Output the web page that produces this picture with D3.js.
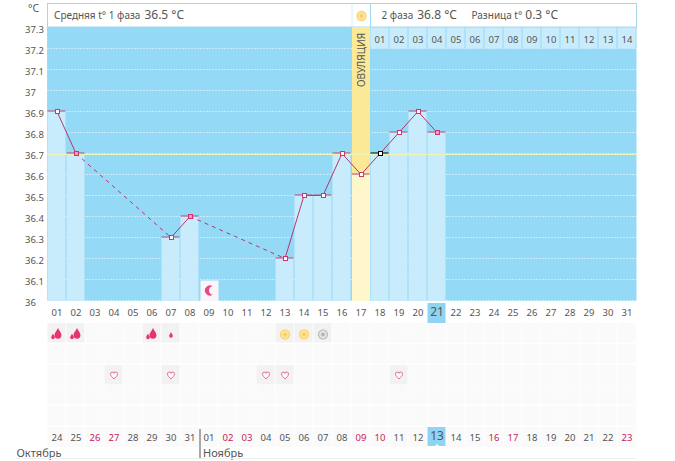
<!DOCTYPE html>
<html>
<head>
<meta charset="utf-8">
<script src="https://cdn.jsdelivr.net/npm/d3@7"></script>
<style>
html,body{margin:0;padding:0;background:#fff;}
svg{display:block;}
text{font-family:"Noto Sans",sans-serif;font-size:9.5px;fill:#555;}
</style>
</head>
<body>
<div id="chart"></div>
<script>
// cycle days, calendar dates
var cycleDays=["01","02","03","04","05","06","07","08","09","10","11","12","13","14","15","16","17","18","19","20","21","22","23","24","25","26","27","28","29","30","31"];
var dates=["24","25","26","27","28","29","30","31","01","02","03","04","05","06","07","08","09","10","11","12","13","14","15","16","17","18","19","20","21","22","23"];
var redDates=[2,3,9,10,16,17,23,24,30];
var secondPhase=["01","02","03","04","05","06","07","08","09","10","11","12","13","14"];
var tempTicks=[36,36.1,36.2,36.3,36.4,36.5,36.6,36.7,36.8,36.9,37,37.1,37.2,37.3];

// measured temperature per day, null = not measured
var temps=[36.9,36.7,null,null,null,null,36.3,36.4,null,null,null,null,36.2,36.5,36.5,36.7,36.6,36.7,36.8,36.9,36.8];
var filledMarks=[1,7,20];
var blackMarks=[17];

var dropsBig=[0,1,5];
var dropsSmall=[6];
var sunsYellow=[12,13];
var sunsGrey=[14];
var hearts=[3,6,11,12,18];
var moonDay=8;
var ovulationDay=16;
var todayDay=20;
var coverLine=36.7;
var monthBreak=8;

var width=675, height=461;
var svg=d3.select("#chart").append("svg").attr("width",width).attr("height",height);

var x=d3.scaleBand().domain(d3.range(31)).range([47.5,636.5]);
var y=d3.scaleLinear().domain([36,37.3]).range([300.5,27.5]);
var cx=function(i){return x(i)+x.bandwidth()/2;};
var bottom=y(36);

var defs=svg.append("defs");
var g1=defs.append("radialGradient").attr("id","sunY");
g1.append("stop").attr("offset","0%").attr("stop-color","#f6bd4e");
g1.append("stop").attr("offset","55%").attr("stop-color","#fdeaa8");
g1.append("stop").attr("offset","82%").attr("stop-color","#fad06e");
g1.append("stop").attr("offset","100%").attr("stop-color","#fdf0c4");
var g2=defs.append("radialGradient").attr("id","sunG");
g2.append("stop").attr("offset","0%").attr("stop-color","#999");
g2.append("stop").attr("offset","55%").attr("stop-color","#eee");
g2.append("stop").attr("offset","82%").attr("stop-color","#bbb");
g2.append("stop").attr("offset","100%").attr("stop-color","#ececec");

// plot background
svg.append("rect").attr("x",x(0)).attr("y",27).attr("width",589).attr("height",bottom-27+0.5).attr("fill","#94d9f5");
svg.append("line").attr("x1",x(0)).attr("x2",x(0)).attr("y1",3).attr("y2",bottom).attr("stroke","#a5d8ec");

// white dotted grid
svg.append("g").selectAll("line").data(tempTicks.filter(function(t){return t<37.3;})).join("line")
  .attr("x1",x(0)).attr("x2",636.5)
  .attr("y1",function(d){return y(d);}).attr("y2",function(d){return y(d);})
  .attr("stroke","#fff").attr("stroke-dasharray","1,2");

// header
svg.append("rect").attr("x",x(0)).attr("y",3.5).attr("width",589).attr("height",23.5).attr("fill","#fff").attr("stroke","#a5d8ec");
svg.append("line").attr("x1",x(ovulationDay)+0.5).attr("x2",x(ovulationDay)+0.5).attr("y1",4).attr("y2",27).attr("stroke","#d8eef7");
svg.append("line").attr("x1",x(ovulationDay)+19).attr("x2",x(ovulationDay)+19).attr("y1",4).attr("y2",27).attr("stroke","#a5d8ec");
svg.append("text").attr("x",54).attr("y",19).style("font-size","10px").text("Средняя t° 1 фаза").append("tspan").attr("dx",4).style("font-size","12px").text("36.5 °C");
svg.append("text").attr("x",381.5).attr("y",19).style("font-size","10px").text("2 фаза").append("tspan").attr("dx",4).style("font-size","12px").text("36.8 °C");
svg.append("text").attr("x",471.5).attr("y",19).style("font-size","10px").text("Разница t°").append("tspan").attr("dx",3).style("font-size","12px").text("0.3 °C");
svg.append("circle").attr("cx",cx(ovulationDay)+0.5).attr("cy",16).attr("r",5.5).attr("fill","url(#sunY)");

// second phase day numbers
svg.append("g").selectAll("rect").data(secondPhase).join("rect")
  .attr("x",function(d,i){return x(ovulationDay+1+i);}).attr("y",27.5)
  .attr("width",18).attr("height",21).attr("fill","#c9ecfc");
svg.append("g").selectAll("text").data(secondPhase).join("text")
  .attr("x",function(d,i){return cx(ovulationDay+1+i);}).attr("y",43)
  .attr("text-anchor","middle").text(function(d){return d;});

// bars
var bars=temps.map(function(t,i){return {t:t,i:i};}).filter(function(d){return d.t!==null&&d.i!=ovulationDay;});
svg.append("g").selectAll("rect").data(bars).join("rect")
  .attr("x",function(d){return x(d.i);}).attr("y",function(d){return y(d.t);})
  .attr("width",18).attr("height",function(d){return bottom-y(d.t)+0.5;})
  .attr("fill","#c9ecfd");

// ovulation column
svg.append("rect").attr("x",x(ovulationDay)+0.5).attr("y",27).attr("width",18).attr("height",y(temps[ovulationDay])-27).attr("fill","#fce998");
svg.append("rect").attr("x",x(ovulationDay)+0.5).attr("y",y(temps[ovulationDay])).attr("width",18).attr("height",bottom-y(temps[ovulationDay])+0.5).attr("fill","#fff7cc");
svg.append("text").attr("transform","translate("+(cx(ovulationDay)+4)+",87) rotate(-90)").style("font-size","10px").text("ОВУЛЯЦИЯ");

// moon cell
svg.append("rect").attr("x",x(moonDay)+1).attr("y",y(36.1)+1).attr("width",18).attr("height",bottom-y(36.1)-0.5).attr("fill","#faf5f8");
svg.append("path").attr("transform","translate("+(cx(moonDay)+1)+","+(y(36.05)+0.5)+")")
  .attr("d","M2.5,-4.3A5,5 0 1 0 2.5,4.3A4.4,4.4 0 0 1 2.5,-4.3Z").attr("fill","#e8487f");

// cover line
svg.append("line").attr("x1",x(0)).attr("x2",636.5).attr("y1",y(coverLine)+1).attr("y2",y(coverLine)+1).attr("stroke","#eef6b4");

// temperature line: solid between neighbours, dashed over gaps
var measured=temps.map(function(t,i){return {t:t,i:i};}).filter(function(d){return d.t!==null;});
var segs=d3.pairs(measured);
svg.append("g").selectAll("line").data(segs).join("line")
  .attr("x1",function(d){return cx(d[0].i);}).attr("y1",function(d){return y(d[0].t);})
  .attr("x2",function(d){return cx(d[1].i);}).attr("y2",function(d){return y(d[1].t);})
  .attr("stroke","#b5386f")
  .attr("stroke-dasharray",function(d){return d[1].i-d[0].i>1?"4,4":null;});

// value dash and square marker
svg.append("g").selectAll("line").data(measured).join("line")
  .attr("x1",function(d){return x(d.i);}).attr("x2",function(d){return x(d.i)+18;})
  .attr("y1",function(d){return y(d.t)-0.5;}).attr("y2",function(d){return y(d.t)-0.5;})
  .attr("stroke",function(d){return blackMarks.indexOf(d.i)>=0?"#000":"#c2457c";});
svg.append("g").selectAll("rect").data(measured).join("rect")
  .attr("x",function(d){return cx(d.i)-1.5;}).attr("y",function(d){return y(d.t)-2;})
  .attr("width",4).attr("height",4)
  .attr("fill",function(d){return filledMarks.indexOf(d.i)>=0?"#f29cbc":"#fff";})
  .attr("stroke",function(d){return blackMarks.indexOf(d.i)>=0?"#000":"#d0336f";});

// temperature axis
var axis=d3.axisLeft(y).tickValues(tempTicks).tickSize(0).tickFormat(function(d){return d%1==0?d3.format("d")(d):d3.format(".1f")(d);});
var axG=svg.append("g").attr("transform","translate(25,2)").call(axis);
axG.select(".domain").remove();
axG.selectAll("text").attr("x",0).attr("text-anchor","start").style("font-family","'Noto Sans'").style("font-size","9.5px").style("fill","#555");
svg.append("text").attr("x",28).attr("y",11.5).style("font-size","10.5px").text("°C");

// today highlights
svg.append("rect").attr("x",x(todayDay)).attr("y",303).attr("width",18).attr("height",20).attr("fill","#8fd4f0");
svg.append("rect").attr("x",x(todayDay)).attr("y",427).attr("width",18).attr("height",19).attr("fill","#8fd4f0");

// cycle day row
svg.append("g").selectAll("text").data(cycleDays).join("text")
  .attr("x",function(d,i){return cx(i);}).attr("y",316)
  .attr("text-anchor","middle").style("font-size",function(d,i){return i==todayDay?"12px":null;})
  .text(function(d){return d;});

// symptom rows
var rowTops=[323,344,365,385,406,427];
var rows=svg.append("g");
rowTops.forEach(function(top,r){
  rows.append("g").selectAll("rect").data(d3.range(31).filter(function(i){return !(r==5&&i==todayDay);})).join("rect")
    .attr("x",function(i){return x(i);}).attr("y",top).attr("width",18).attr("height",r==5?20:19.5)
    .attr("fill",function(i){
      if(r==0&&(dropsBig.concat(dropsSmall,sunsYellow,sunsGrey).indexOf(i)>=0))return "#f2f2f2";
      if(r==2&&hearts.indexOf(i)>=0)return "#f2f2f2";
      return "#fafafa";
    });
});

// drops
function drop(s,px,py){
  return "M"+px+","+(py-5*s)+"C"+(px+1*s)+","+(py-2*s)+" "+(px+3*s)+","+(py-1*s)+" "+(px+3*s)+","+(py+1.5*s)+"A"+(3*s)+","+(3*s)+" 0 0 1 "+(px-3*s)+","+(py+1.5*s)+"C"+(px-3*s)+","+(py-1*s)+" "+(px-1*s)+","+(py-2*s)+" "+px+","+(py-5*s)+"Z";
}
svg.append("g").selectAll("path").data(dropsBig).join("path")
  .attr("transform",function(i){return "translate("+cx(i)+",334)";})
  .attr("d",drop(1.15,1,-0.5)+drop(0.6,-4,2.5)).attr("fill","#e8336f");
svg.append("g").selectAll("path").data(dropsSmall).join("path")
  .attr("transform",function(i){return "translate("+cx(i)+",335)";})
  .attr("d",drop(0.6,0,0)).attr("fill","#e8336f");

// suns
svg.append("g").selectAll("circle").data(sunsYellow).join("circle")
  .attr("cx",cx).attr("cy",334.5).attr("r",5.5).attr("fill","url(#sunY)");
svg.append("g").selectAll("circle").data(sunsGrey).join("circle")
  .attr("cx",cx).attr("cy",334.5).attr("r",5.5).attr("fill","url(#sunG)");

// hearts
svg.append("g").selectAll("path").data(hearts).join("path")
  .attr("transform",function(i){return "translate("+cx(i)+",375.5) scale(0.85)";})
  .attr("d","M0,4C-2,2 -4,0.5 -4,-1.5A2,2 0 0 1 0,-2.5A2,2 0 0 1 4,-1.5C4,0.5 2,2 0,4Z")
  .attr("fill","#fff").attr("stroke","#d94f87");

// calendar dates
svg.append("g").selectAll("text").data(dates).join("text")
  .attr("x",function(d,i){return cx(i);}).attr("y",function(d,i){return i==todayDay?440:441;})
  .attr("text-anchor","middle")
  .style("font-size",function(d,i){return i==todayDay?"12px":null;})
  .style("fill",function(d,i){return redDates.indexOf(i)>=0?"#c2255c":null;})
  .text(function(d){return d;});
svg.append("path").attr("transform","translate("+cx(todayDay)+",444)").attr("d","M0,0L2.5,2.5L-2.5,2.5Z").attr("fill","#fff");

// month labels
svg.append("line").attr("x1",x(monthBreak)+0.5).attr("x2",x(monthBreak)+0.5).attr("y1",429).attr("y2",458).attr("stroke","#555");
svg.append("text").attr("x",16.5).attr("y",457).style("font-size","11px").text("Октябрь");
svg.append("text").attr("x",203).attr("y",457).style("font-size","11px").text("Ноябрь");
svg.append("line").attr("x1",16).attr("x2",636).attr("y1",458.5).attr("y2",458.5).attr("stroke","#eee");
</script>
</body>
</html>
